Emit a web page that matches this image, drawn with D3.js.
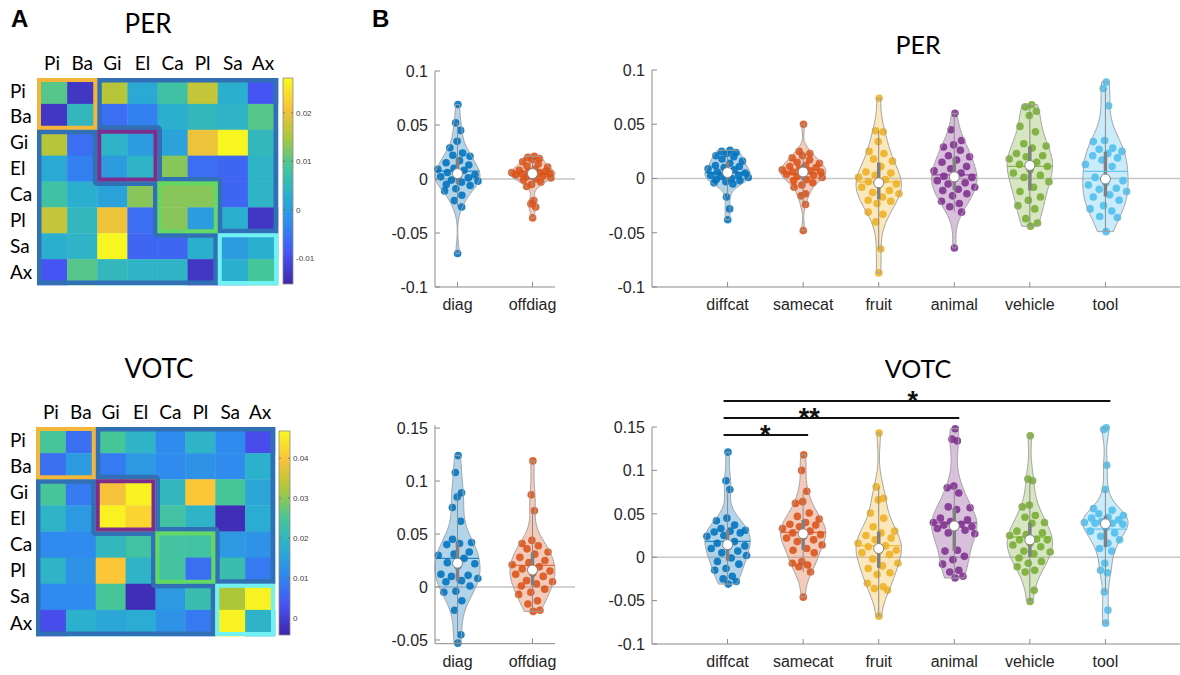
<!DOCTYPE html>
<html>
<head>
<meta charset="utf-8">
<script src="https://cdn.jsdelivr.net/npm/d3@7"></script>
<style>
  body { margin: 0; background: #fff; }
  svg { display: block; font-family: "Liberation Sans", Arial, sans-serif; }
</style>
</head>
<body>
<svg id="fig" width="1180" height="675"></svg>
<script>
// ---------- data ----------
const regions = ['Pi', 'Ba', 'Gi', 'El', 'Ca', 'Pl', 'Sa', 'Ax'];

const perMatrix = [
  [ 0.010, -0.013,  0.016,  0.002,  0.008,  0.017,  0.003, -0.009],
  [-0.013,  0.005, -0.006, -0.004,  0.003,  0.005,  0.004,  0.010],
  [ 0.016, -0.006,  0.004,  0.000,  0.001,  0.020,  0.027,  0.005],
  [ 0.002, -0.004,  0.000,  0.004,  0.013, -0.006, -0.007,  0.004],
  [ 0.008,  0.003,  0.001,  0.013,  0.013,  0.013, -0.007,  0.004],
  [ 0.017,  0.005,  0.020, -0.006,  0.013,  0.000,  0.003, -0.013],
  [ 0.003,  0.004,  0.027, -0.007, -0.007,  0.003,  0.000,  0.003],
  [-0.009,  0.010,  0.005,  0.004,  0.004, -0.013,  0.003,  0.009]
];
const votcMatrix = [
  [0.025, 0.007,  0.025,  0.019,  0.011,  0.019,  0.011,  0.002],
  [0.007, 0.014,  0.0085, 0.0135, 0.011,  0.0125, 0.011,  0.018],
  [0.025, 0.0085, 0.039,  0.046,  0.020,  0.040,  0.025,  0.016],
  [0.019, 0.0135, 0.046,  0.042,  0.024,  0.019, -0.003,  0.017],
  [0.011, 0.011,  0.020,  0.024,  0.024,  0.024,  0.0135, 0.0125],
  [0.019, 0.0125, 0.040,  0.019,  0.024,  0.007,  0.022,  0.0085],
  [0.011, 0.011,  0.025, -0.003,  0.0135, 0.022,  0.0325, 0.046],
  [0.002, 0.018,  0.016,  0.017,  0.0125, 0.0085, 0.046,  0.019]
];
const perClim = [-0.0153, 0.0272];
const votcClim = [-0.0043, 0.0468];
const perCbTicks = [-0.01, 0, 0.01, 0.02];
const votcCbTicks = [0, 0.01, 0.02, 0.03, 0.04];
// diagonal category blocks (Pi/Ba, Gi/El, Ca/Pl, Sa/Ax)
const blocks = [[0, 2], [2, 4], [4, 6], [6, 8]];

const diagNames = ['diag', 'offdiag'];
const catNames = ['diffcat', 'samecat', 'fruit', 'animal', 'vehicle', 'tool'];

// PER
const perDiag = [0.069, 0.052, 0.045, 0.035, 0.029, 0.024, 0.022, 0.021, 0.017, 0.015, 0.013, 0.010, 0.009, 0.008, 0.006, 0.004, 0.003, 0.002, 0.001, -0.001, -0.002, -0.003, -0.005, -0.006, -0.009, -0.011, -0.015, -0.020, -0.026, -0.069];
const perOffdiag = [0.021, 0.020, 0.019, 0.018, 0.016, 0.014, 0.012, 0.011, 0.009, 0.008, 0.007, 0.007, 0.006, 0.006, 0.005, 0.005, 0.004, 0.004, 0.003, 0.002, 0.001, 0.000, -0.001, -0.003, -0.005, -0.007, -0.020, -0.023, -0.026, -0.036];
const perDiffcat = [0.026, 0.025, 0.024, 0.023, 0.021, 0.020, 0.018, 0.016, 0.014, 0.012, 0.011, 0.010, 0.009, 0.008, 0.006, 0.005, 0.004, 0.003, 0.003, 0.002, 0.001, 0.000, -0.001, -0.002, -0.003, -0.004, -0.005, -0.017, -0.028, -0.038];
const perSamecat = [0.050, 0.025, 0.023, 0.021, 0.019, 0.017, 0.015, 0.014, 0.012, 0.011, 0.010, 0.009, 0.008, 0.007, 0.006, 0.006, 0.005, 0.004, 0.003, 0.002, 0.001, -0.001, -0.002, -0.004, -0.006, -0.008, -0.014, -0.016, -0.024, -0.048];
const perFruit = [0.074, 0.044, 0.043, 0.034, 0.025, 0.023, 0.018, 0.016, 0.011, 0.006, 0.005, 0.003, 0.001, -0.001, -0.003, -0.005, -0.006, -0.008, -0.011, -0.013, -0.014, -0.017, -0.020, -0.021, -0.023, -0.031, -0.033, -0.040, -0.065, -0.087];
const perAnimal = [0.060, 0.045, 0.035, 0.031, 0.029, 0.026, 0.021, 0.020, 0.017, 0.015, 0.011, 0.009, 0.007, 0.005, 0.002, 0.001, 0.000, -0.002, -0.004, -0.005, -0.008, -0.010, -0.011, -0.014, -0.016, -0.021, -0.023, -0.026, -0.031, -0.064];
const perVehicle = [0.068, 0.066, 0.062, 0.058, 0.048, 0.043, 0.032, 0.030, 0.028, 0.023, 0.021, 0.020, 0.018, 0.015, 0.013, 0.011, 0.008, 0.005, 0.003, 0.001, -0.003, -0.008, -0.012, -0.017, -0.020, -0.025, -0.028, -0.037, -0.041, -0.044];
const perTool = [0.089, 0.083, 0.067, 0.035, 0.034, 0.028, 0.027, 0.025, 0.023, 0.021, 0.019, 0.017, 0.013, 0.011, 0.001, -0.002, -0.004, -0.006, -0.009, -0.010, -0.012, -0.015, -0.017, -0.020, -0.025, -0.028, -0.030, -0.035, -0.036, -0.049];

// VOTC
const votcDiag = [0.124, 0.108, 0.089, 0.085, 0.075, 0.062, 0.045, 0.042, 0.041, 0.040, 0.033, 0.031, 0.030, 0.027, 0.023, 0.022, 0.020, 0.012, 0.011, 0.010, 0.008, 0.006, 0.005, 0.001, -0.004, -0.005, -0.013, -0.022, -0.045, -0.053];
const votcOffdiag = [0.119, 0.087, 0.072, 0.044, 0.041, 0.039, 0.036, 0.033, 0.031, 0.028, 0.025, 0.023, 0.021, 0.019, 0.017, 0.015, 0.013, 0.012, 0.010, 0.006, 0.005, 0.003, 0.001, -0.002, -0.005, -0.007, -0.013, -0.016, -0.022, -0.023];
const votcDiffcat = [0.121, 0.088, 0.078, 0.045, 0.042, 0.037, 0.033, 0.031, 0.030, 0.029, 0.028, 0.025, 0.024, 0.018, 0.016, 0.013, 0.012, 0.010, 0.007, 0.005, 0.002, -0.001, -0.005, -0.008, -0.013, -0.015, -0.022, -0.025, -0.028, -0.031];
const votcSamecat = [0.118, 0.100, 0.076, 0.064, 0.062, 0.051, 0.047, 0.044, 0.040, 0.038, 0.037, 0.035, 0.033, 0.030, 0.028, 0.026, 0.024, 0.022, 0.020, 0.018, 0.014, 0.010, 0.008, 0.005, -0.005, -0.007, -0.009, -0.011, -0.017, -0.046];
const votcFruit = [0.143, 0.081, 0.068, 0.066, 0.051, 0.045, 0.035, 0.030, 0.028, 0.025, 0.022, 0.020, 0.016, 0.013, 0.012, 0.008, 0.007, 0.005, 0.003, -0.002, -0.007, -0.010, -0.013, -0.018, -0.020, -0.030, -0.034, -0.036, -0.038, -0.068];
const votcAnimal = [0.148, 0.136, 0.134, 0.082, 0.080, 0.074, 0.058, 0.057, 0.055, 0.045, 0.043, 0.041, 0.040, 0.038, 0.037, 0.035, 0.034, 0.033, 0.031, 0.028, 0.027, 0.008, 0.007, 0.001, -0.003, -0.008, -0.015, -0.017, -0.022, -0.024];
const votcVehicle = [0.140, 0.090, 0.088, 0.060, 0.058, 0.048, 0.046, 0.040, 0.039, 0.030, 0.028, 0.026, 0.025, 0.021, 0.020, 0.020, 0.016, 0.014, 0.012, 0.007, 0.006, 0.004, -0.001, -0.005, -0.007, -0.011, -0.015, -0.017, -0.038, -0.051];
const votcTool = [0.149, 0.147, 0.106, 0.078, 0.056, 0.054, 0.050, 0.048, 0.046, 0.045, 0.043, 0.041, 0.040, 0.039, 0.039, 0.038, 0.034, 0.030, 0.028, 0.024, 0.020, 0.016, 0.010, 0.007, -0.007, -0.015, -0.018, -0.040, -0.061, -0.076];

// significance annotations on the VOTC category plot
const sigBars = [
  { from: 'diffcat', to: 'samecat', label: '*',  level: 0, textAt: 1.5 },
  { from: 'diffcat', to: 'animal',  label: '**', level: 1, textAt: 2.08 },
  { from: 'diffcat', to: 'tool',    label: '*',  level: 2, textAt: 3.45 }
];

// ---------- styling ----------
const matlabColors = ['#0072BD', '#D95319', '#EDB120', '#7E2F8E', '#77AC30', '#4DBEEE'];
const parulaStops = ['#3e26a8', '#4852f4', '#3087f0', '#2aafd0', '#45c59a', '#abc739', '#fbc23a', '#f8f820'];
const parula = d3.piecewise(d3.interpolateRgb, parulaStops);
const boxColors = { blue: '#3170b4', rim: ['#f3b53a', '#7d2e8d', '#63d863', '#72f1f5'] };
const labelFont = 'Lato, "Open Sans", sans-serif';

const svg = d3.select('#fig');
const defs = svg.append('defs');

// ---------- panel A: matrices ----------
let clipId = 0;
// stroke drawn only on the inside of a polygon
function innerStroke(g, pts, color, w) {
  const id = 'clip' + (clipId++);
  const d = 'M' + pts.map(p => p.join(',')).join('L') + 'Z';
  defs.append('clipPath').attr('id', id).append('path').attr('d', d);
  g.append('path').attr('d', d)
    .attr('fill', 'none').attr('stroke', color).attr('stroke-width', w * 2)
    .attr('stroke-linejoin', 'round')
    .attr('clip-path', `url(#${id})`);
}

function drawMatrix(M, clim, cbTicks, fr, cb, title, tx, ty) {
  const g = svg.append('g');
  const n = regions.length;
  const x = d3.scaleLinear().domain([0, n]).range([fr.x0, fr.x1]);
  const y = d3.scaleLinear().domain([0, n]).range([fr.y0, fr.y1]);
  const color = d3.scaleSequential(parula).domain(clim).clamp(true);

  const cells = M.flatMap((row, i) => row.map((v, j) => ({ i, j, v })));
  g.selectAll('rect.cell').data(cells).join('rect')
    .attr('class', 'cell')
    .attr('x', d => x(d.j)).attr('y', d => y(d.i))
    .attr('width', x(1) - x(0) + 0.4).attr('height', y(1) - y(0) + 0.4)
    .attr('fill', d => color(d.v));

  // off-diagonal staircase outlines: (2,0)(8,0)(8,6)(6,6)(6,4)(4,4)(4,2)(2,2)
  const up = [[blocks[1][0], 0], [n, 0], [n, blocks[blocks.length - 1][0]]];
  for (let k = blocks.length - 1; k >= 1; k--) {
    up.push([blocks[k][0], blocks[k][0]]);
    if (k > 1) up.push([blocks[k][0], blocks[k - 1][0]]);
  }
  const lo = up.map(([c, r]) => [r, c]);
  [up, lo].forEach(poly => innerStroke(g, poly.map(([c, r]) => [x(c), y(r)]), boxColors.blue, 4.5));

  blocks.forEach((b, k) => {
    const pts = [[b[0], b[0]], [b[1], b[0]], [b[1], b[1]], [b[0], b[1]]];
    innerStroke(g, pts.map(([c, r]) => [x(c), y(r)]), boxColors.rim[k], 4);
  });

  // labels
  g.selectAll('text.col').data(regions).join('text')
    .attr('x', (d, i) => x(i + 0.5)).attr('y', fr.y0 - 8)
    .attr('text-anchor', 'middle').style('font-family', labelFont).style('font-size', '19px')
    .text(d => d);
  g.selectAll('text.row').data(regions).join('text')
    .attr('x', 10).attr('y', (d, i) => y(i + 0.5)).attr('dy', '0.35em')
    .style('font-family', labelFont).style('font-size', '19px')
    .text(d => d);
  g.append('text').attr('x', tx).attr('y', ty).attr('text-anchor', 'middle')
    .style('font-family', labelFont).style('font-size', '26px').text(title);

  // colorbar
  const gid = 'grad' + title;
  const grad = defs.append('linearGradient').attr('id', gid)
    .attr('x1', 0).attr('y1', 1).attr('x2', 0).attr('y2', 0);
  d3.range(0, 1.0001, 0.05).forEach(t => grad.append('stop').attr('offset', t).attr('stop-color', parula(t)));
  const cy = d3.scaleLinear().domain(clim).range([cb.y1, cb.y0]);
  g.append('rect').attr('x', cb.x0).attr('y', cb.y0).attr('width', cb.x1 - cb.x0).attr('height', cb.y1 - cb.y0)
    .attr('fill', `url(#${gid})`).attr('stroke', '#8a8a8a').attr('stroke-width', 0.8);
  cbTicks.forEach(t => {
    g.append('line').attr('x1', cb.x0).attr('x2', cb.x0 + 2).attr('y1', cy(t)).attr('y2', cy(t)).attr('stroke', '#555').attr('stroke-width', 0.6);
    g.append('line').attr('x1', cb.x1 - 2).attr('x2', cb.x1).attr('y1', cy(t)).attr('y2', cy(t)).attr('stroke', '#555').attr('stroke-width', 0.6);
    g.append('text').attr('x', cb.x1 + 3).attr('y', cy(t)).attr('dy', '0.35em')
      .style('font-size', '8px').attr('fill', '#444').text(String(t));
  });
}

drawMatrix(perMatrix, perClim, perCbTicks,
  { x0: 37, x1: 278, y0: 78, y1: 285 }, { x0: 283, x1: 293, y0: 78, y1: 284 }, 'PER', 148, 33);
drawMatrix(votcMatrix, votcClim, votcCbTicks,
  { x0: 36, x1: 275, y0: 427, y1: 636 }, { x0: 279, x1: 290, y0: 431, y1: 635 }, 'VOTC', 159, 378);

// ---------- panel B: violins ----------
// gaussian kde over the data range, Silverman bandwidth with robust sigma
function kde(values, n = 100) {
  const s = values.slice().sort(d3.ascending);
  const med = d3.median(s);
  const mad = d3.median(s, v => Math.abs(v - med));
  const bw = (mad / 0.6745) * Math.pow(4 / (3 * s.length), 0.2);
  const lo = s[0], hi = s[s.length - 1];
  return d3.range(n).map(i => {
    const p = lo + (hi - lo) * i / (n - 1);
    return [p, d3.sum(s, v => Math.exp(-0.5 * ((p - v) / bw) ** 2))];
  });
}

const fmt = v => String(+v.toFixed(2));

function drawViolins(groups, names, colorIdx, o) {
  const g = svg.append('g');
  const x = d3.scaleLinear().domain(o.xlim).range(o.xr);
  const y = d3.scaleLinear().domain(o.ylim).range(o.yr);
  const width = 0.3;

  g.append('line').attr('x1', o.xr[0]).attr('x2', o.zeroEnd || o.xr[1])
    .attr('y1', y(0)).attr('y2', y(0)).attr('stroke', '#c6c6c6').attr('stroke-width', 1.5);

  groups.forEach((vals, k) => {
    const pos = k + 1, col = matlabColors[colorIdx[k]];
    const dens = kde(vals);
    const maxD = d3.max(dens, d => d[1]);
    const lo = dens[0][0], hi = dens[dens.length - 1][0];
    const half = v => {
      const t = (v - lo) / (hi - lo) * (dens.length - 1);
      const i = Math.max(0, Math.min(dens.length - 2, Math.floor(t)));
      const f = t - i;
      return (dens[i][1] * (1 - f) + dens[i + 1][1] * f) / maxD * width;
    };
    const area = d3.area()
      .y(d => y(d[0]))
      .x0(d => x(pos - d[1] / maxD * width))
      .x1(d => x(pos + d[1] / maxD * width));

    g.append('path').attr('d', area(dens)).attr('fill', col).attr('fill-opacity', 0.3);

    // scatter, jitter scaled by the local density
    g.selectAll(null).data(vals).join('circle')
      .attr('cx', (v, i) => x(pos + ((((i + 1) * 0.618034) % 1) * 2 - 1) * half(v)))
      .attr('cy', v => y(v))
      .attr('r', 3.8).attr('fill', col).attr('fill-opacity', 0.88);

    g.append('path').attr('d', area(dens)).attr('fill', 'none')
      .attr('stroke', '#a2a2a2').attr('stroke-width', 1);

    const s = vals.slice().sort(d3.ascending);
    const q1 = d3.quantile(s, 0.25), q3 = d3.quantile(s, 0.75), md = d3.median(s), mn = d3.mean(s);
    const iqr = q3 - q1;
    const wLo = d3.min(s.filter(v => v >= q1 - 1.5 * iqr));
    const wHi = d3.max(s.filter(v => v <= q3 + 1.5 * iqr));

    g.append('line').attr('x1', x(pos)).attr('x2', x(pos)).attr('y1', y(wLo)).attr('y2', y(wHi))
      .attr('stroke', '#8c8c8c').attr('stroke-width', 1);
    g.append('line').attr('x1', x(pos)).attr('x2', x(pos)).attr('y1', y(q1)).attr('y2', y(q3))
      .attr('stroke', '#808080').attr('stroke-width', 3.5);
    const hm = half(mn);
    g.append('line').attr('x1', x(pos - hm)).attr('x2', x(pos + hm)).attr('y1', y(mn)).attr('y2', y(mn))
      .attr('stroke', col).attr('stroke-width', 1.2).attr('stroke-opacity', 0.8);
    g.append('circle').attr('cx', x(pos)).attr('cy', y(md)).attr('r', 5)
      .attr('fill', '#fff').attr('stroke', '#808080').attr('stroke-width', 1);
  });

  // axes (MATLAB style: ticks pointing in)
  const axisColor = '#8a8a8a';
  g.append('line').attr('x1', o.xr[0]).attr('x2', o.xr[0]).attr('y1', o.yr[0]).attr('y2', o.yr[1])
    .attr('stroke', axisColor).attr('stroke-width', 1);
  g.append('line').attr('x1', o.xr[0]).attr('x2', o.xr[1]).attr('y1', o.yr[0]).attr('y2', o.yr[0])
    .attr('stroke', axisColor).attr('stroke-width', 1);
  o.yticks.forEach(t => {
    g.append('line').attr('x1', o.xr[0]).attr('x2', o.xr[0] + 5).attr('y1', y(t)).attr('y2', y(t))
      .attr('stroke', axisColor);
    g.append('text').attr('x', o.xr[0] - 7).attr('y', y(t)).attr('dy', '0.36em')
      .attr('text-anchor', 'end').style('font-size', '16px').attr('fill', '#262626').text(fmt(t));
  });
  names.forEach((nm, k) => {
    g.append('line').attr('x1', x(k + 1)).attr('x2', x(k + 1)).attr('y1', o.yr[0]).attr('y2', o.yr[0] - 5)
      .attr('stroke', axisColor);
    g.append('text').attr('x', x(k + 1)).attr('y', o.yr[0] + 23).attr('text-anchor', 'middle')
      .style('font-size', '16px').attr('fill', '#262626').text(nm);
  });
  return { g, x, y };
}

drawViolins([perDiag, perOffdiag], diagNames, [0, 1],
  { xlim: [0.7, 2.3], xr: [435, 555], ylim: [-0.1, 0.1], yr: [287, 71], zeroEnd: 575,
    yticks: [-0.1, -0.05, 0, 0.05, 0.1] });
drawViolins([perDiffcat, perSamecat, perFruit, perAnimal, perVehicle, perTool], catNames, [0, 1, 2, 3, 4, 5],
  { xlim: [0, 7], xr: [652, 1181], ylim: [-0.1, 0.1], yr: [287, 70],
    yticks: [-0.1, -0.05, 0, 0.05, 0.1] });
drawViolins([votcDiag, votcOffdiag], diagNames, [0, 1],
  { xlim: [0.7, 2.3], xr: [435, 555], ylim: [-0.0535, 0.1525], yr: [643.7, 425.4], zeroEnd: 575,
    yticks: [-0.05, 0, 0.05, 0.1, 0.15] });
const votcCat = drawViolins([votcDiffcat, votcSamecat, votcFruit, votcAnimal, votcVehicle, votcTool], catNames, [0, 1, 2, 3, 4, 5],
  { xlim: [0, 7], xr: [652, 1181], ylim: [-0.1, 0.15], yr: [644, 427],
    yticks: [-0.1, -0.05, 0, 0.05, 0.1, 0.15] });

// significance bars
sigBars.forEach(b => {
  const x1 = votcCat.x(catNames.indexOf(b.from) + 1) - 4;
  const x2 = votcCat.x(catNames.indexOf(b.to) + 1) + 5;
  const yy = votcCat.y(0.15) + 8 - b.level * 17;
  votcCat.g.append('line').attr('x1', x1).attr('x2', x2).attr('y1', yy).attr('y2', yy)
    .attr('stroke', '#111').attr('stroke-width', 2);
  votcCat.g.append('text').attr('x', votcCat.x(b.textAt)).attr('y', yy + 9)
    .attr('text-anchor', 'middle').style('font-size', '27px').style('font-weight', 'bold')
    .attr('fill', '#111').text(b.label);
});

// titles and panel letters
svg.append('text').attr('x', 918).attr('y', 54).attr('text-anchor', 'middle')
  .style('font-family', labelFont).style('font-size', '25px').text('PER');
svg.append('text').attr('x', 918).attr('y', 378).attr('text-anchor', 'middle')
  .style('font-family', labelFont).style('font-size', '25px').text('VOTC');
svg.append('text').attr('x', 11).attr('y', 27).style('font-size', '24px').style('font-weight', 'bold').text('A');
svg.append('text').attr('x', 372).attr('y', 27).style('font-size', '24px').style('font-weight', 'bold').text('B');
</script>
</body>
</html>
